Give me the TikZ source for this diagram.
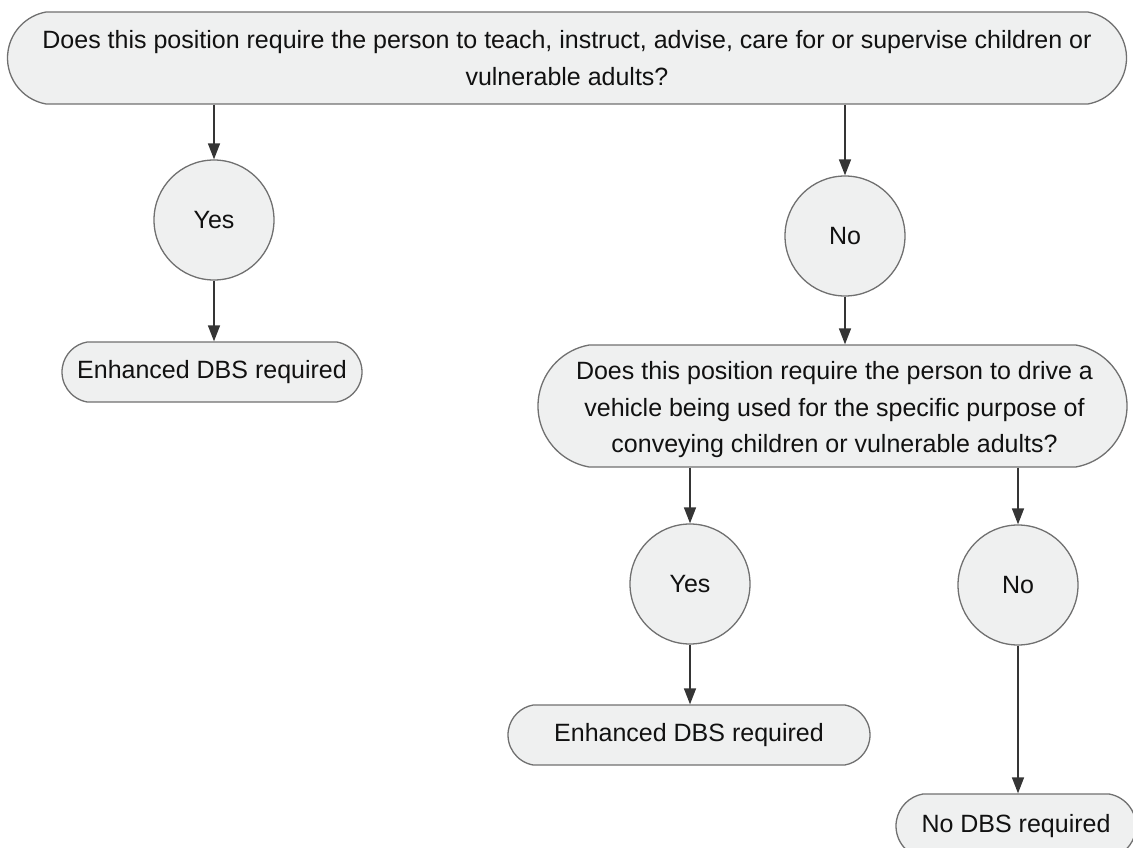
\documentclass[tikz,border=0pt]{standalone}
\usepackage{fontspec}
\setmainfont{Liberation Sans}
\usetikzlibrary{shapes.misc,arrows.meta,calc}
\definecolor{boxfill}{HTML}{EFF0F0}
\definecolor{boxline}{HTML}{707070}
\definecolor{arrline}{HTML}{353535}
\definecolor{ink}{HTML}{111111}
\tikzset{
  every node/.style={text=ink},
  txt/.style={font=\fontsize{25}{36.5}\selectfont, align=center},
  term/.style={rounded rectangle, rounded rectangle arc length=160, draw=boxline,
    fill=boxfill, line width=1.3pt, inner sep=0pt, txt},
  answer/.style={circle, draw=boxline, fill=boxfill, line width=1.3pt,
    minimum size=120pt, inner sep=0pt, txt},
  flow/.style={draw=arrline, line width=1.5pt,
    -{Triangle[length=16pt,width=12pt]}},
}
\begin{document}
\begin{tikzpicture}[x=1pt,y=-1pt]
\useasboundingbox (0,0) rectangle (1133,848);
\clip (0,0) rectangle (1133,848);

% first question
\node[term, minimum width=1119pt, minimum height=92pt] (q1) at (567,58)
  {Does this position require the person to teach, instruct, advise, care for or supervise children or\\vulnerable adults?};

% answers to the first question
\node[answer] (yes1) at (214,220) {Yes};
\node[answer] (no1) at (845,236) {No};
\node[term, minimum width=300pt, minimum height=60pt] (enh1) at (212,372) {Enhanced DBS required};

% second question
\node[term, minimum width=589pt, minimum height=122pt] (q2) at (832.5,406) {};
\node[txt] (q2text) at ([xshift=2pt,yshift=-4pt]q2.center)
  {Does this position require the person to drive a\\vehicle being used for the specific purpose of\\conveying children or vulnerable adults?};

% answers to the second question
\node[answer] (yes2) at (690,584) {Yes};
\node[answer] (no2) at (1018,585) {No};
\node[term, minimum width=362pt, minimum height=60pt] (enh2) at (689,735) {Enhanced DBS required};
\node[term, minimum width=240pt, minimum height=64pt] (nodbs) at (1016,826) {No DBS required};

% connectors
\draw[flow] (q1.south -| yes1.north) -- (yes1.north);
\draw[flow] (q1.south -| no1.north) -- (no1.north);
\draw[flow] (yes1.south) -- (yes1.south |- enh1.north);
\draw[flow] (no1.south) -- (no1.south |- q2.north);
\draw[flow] (q2.south -| yes2.north) -- (yes2.north);
\draw[flow] (q2.south -| no2.north) -- (no2.north);
\draw[flow] (yes2.south) -- (yes2.south |- enh2.north);
\draw[flow] (no2.south) -- (no2.south |- nodbs.north);
\end{tikzpicture}
\end{document}
